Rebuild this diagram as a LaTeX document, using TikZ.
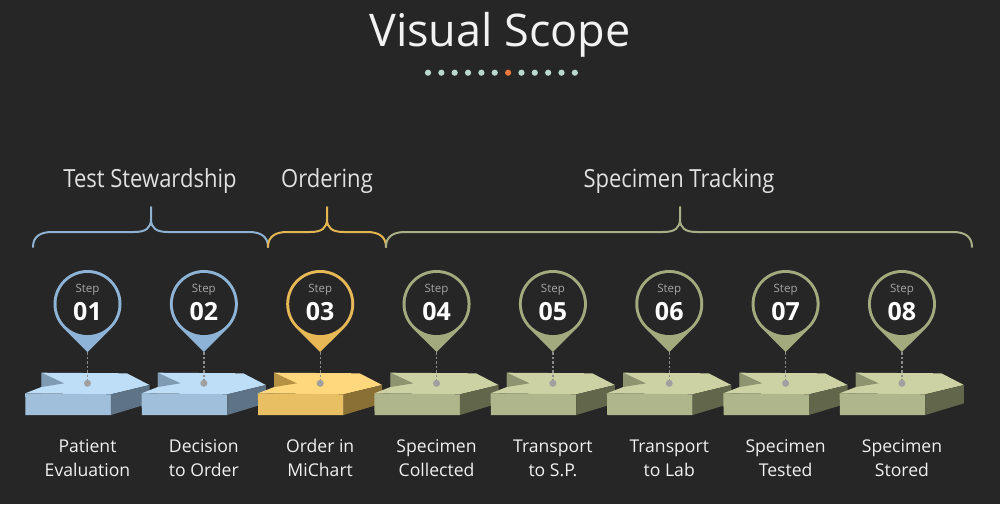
\documentclass[tikz,border=0pt]{standalone}
\usepackage{fontspec}
\setmainfont{Open Sans}
\newfontfamily\grpfont[FakeStretch=0.88]{Open Sans}
\definecolor{bg}{HTML}{262626}
\definecolor{titlec}{HTML}{F2F2F2}
\definecolor{grpc}{HTML}{E0E0E0}
\definecolor{lblc}{HTML}{F0F0F0}
\definecolor{stepc}{HTML}{A6A6A6}
\definecolor{mint}{HTML}{B9D9CF}
\definecolor{orangedot}{HTML}{E8783C}
\definecolor{dotgrey}{HTML}{A0A0A0}
\definecolor{dashgrey}{HTML}{8C8C8C}
% blue
\definecolor{pinB}{HTML}{8DB3D6}
\definecolor{topB}{HTML}{BEDDF7}
\definecolor{frontB}{HTML}{9FBFDB}
\definecolor{sideB}{HTML}{5E7486}
\definecolor{notchB}{HTML}{7F9BB4}
\definecolor{braceB}{HTML}{8FB2D2}
% yellow
\definecolor{pinY}{HTML}{E6B856}
\definecolor{topY}{HTML}{FFD77C}
\definecolor{frontY}{HTML}{E8BF63}
\definecolor{sideY}{HTML}{8B7036}
\definecolor{notchY}{HTML}{B59143}
\definecolor{braceY}{HTML}{E4B652}
% green
\definecolor{pinG}{HTML}{A2AA7E}
\definecolor{topG}{HTML}{CDD2A4}
\definecolor{frontG}{HTML}{B0B68C}
\definecolor{sideG}{HTML}{62664A}
\definecolor{notchG}{HTML}{8E9370}
\definecolor{braceG}{HTML}{A8AE86}
\newcommand\mybrace[4]{%
  \draw[bracestyle,#4] (#1,247) .. controls (#1,236) and (#1+8,232) .. (#1+19,232)
     -- (#2-17,232) .. controls (#2-5,232) and (#2,228) .. (#2,219) -- (#2,207);
  \draw[bracestyle,#4] (#2,219) .. controls (#2,228) and (#2+5,232) .. (#2+17,232)
     -- (#3-19,232) .. controls (#3-8,232) and (#3,236) .. (#3,247);
}
\tikzset{
  bracestyle/.style={line width=2pt, line cap=round},
  titletext/.style={inner sep=0pt, anchor=base, text=titlec, font=\fontsize{45}{54}\selectfont},
  grptext/.style={inner sep=0pt, anchor=base, text=grpc, font=\grpfont\fontsize{25}{30}\selectfont},
  lbltext/.style={inner sep=0pt, anchor=base, text=lblc, font=\fontsize{17.6}{21}\selectfont},
  steptext/.style={inner sep=0pt, anchor=base, text=stepc, font=\fontsize{11.5}{13}\selectfont},
  numtext/.style={inner sep=0pt, anchor=base, text=white, font=\bfseries\fontsize{25}{30}\selectfont},
  dotnode/.style={circle, fill=dotgrey, inner sep=0pt, minimum size=7pt},
  dashline/.style={draw=dashgrey, line width=1.3pt, dash pattern=on 2.5pt off 2pt},
}
\begin{document}
\begin{tikzpicture}[x=1pt,y=-1pt]
\fill[bg] (0,0) rectangle (1000,504);
\useasboundingbox (0,0) rectangle (1000,504);
% title
\node[titletext] (title) at (500,46.7) {Visual Scope};
\foreach \i in {0,...,11}{
  \ifnum\i=6
    \fill[orangedot] (428+\i*13.35,72.7) circle (3.1);
  \else
    \fill[mint] (428+\i*13.35,72.7) circle (3.1);
  \fi
}
% group labels
\node[grptext] (g1) at (150,187.5) {Test Stewardship};
\node[grptext] (g2) at (327,187.5) {Ordering};
\node[grptext] (g3) at (679,187.5) {Specimen Tracking};
% braces
\mybrace{33}{151}{268}{draw=braceB}
\mybrace{268}{327}{386}{draw=braceY}
\mybrace{386}{680}{972}{draw=braceG}
% steps
\foreach \col/\la/\lb [count=\n] in {B/Patient/Evaluation, B/Decision/to Order, Y/Order in/MiChart, G/Specimen/Collected, G/Transport/to S.P., G/Transport/to Lab, G/Specimen/Tested, G/Specimen/Stored}{
  \pgfmathsetmacro\cx{87.5+116.35*(\n-1)}
  % chevron
  \begin{scope}[shift={(\cx,383.3)}]
    \fill[top\col] (-46,-10.6) -- (39.4,-10) -- (62,1.7) -- (23.4,11) -- (-62.3,10) -- (-46,3.7) -- cycle;
    \fill[notch\col] (-46,-10.6) -- (-23.3,0) -- (-46,3.7) -- cycle;
    \fill[front\col] (-62.3,10) -- (23.4,11) -- (23.4,31.7) -- (-62,31.7) -- cycle;
    \fill[side\col] (23.4,11) -- (62,1.7) -- (62,20) -- (23.4,31.7) -- cycle;
  \end{scope}
  % pin
  \fill[pin\col] (\cx,304) ++(45:34) arc[start angle=45, end angle=-225, radius=34] -- (\cx,352) -- cycle;
  \fill[bg] (\cx,304) circle (31);
  \node[steptext] (step\n) at (\cx,292.3) {Step};
  \node[numtext] (num\n) at (\cx,320) {0\n};
  \coordinate (tip\n) at (\cx,352);
  \node[dotnode] (dot\n) at (\cx,383.3) {};
  \draw[dashline] (tip\n) -- (dot\n);
  % labels
  \node[lbltext] (la\n) at (\cx,452.7) {\la};
  \node[lbltext] (lb\n) at (\cx,476.7) {\lb};
}
\end{tikzpicture}
\end{document}
